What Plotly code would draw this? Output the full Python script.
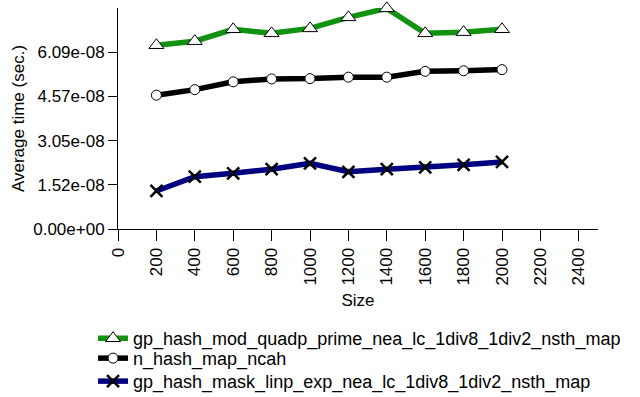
import plotly.graph_objects as go

sizes = [200, 400, 600, 800, 1000, 1200, 1400, 1600, 1800, 2000]
quadp = [6.33e-8, 6.47e-8, 6.88e-8, 6.74e-8, 6.91e-8, 7.29e-8, 7.60e-8, 6.74e-8, 6.78e-8, 6.88e-8]
ncah = [4.61e-8, 4.80e-8, 5.07e-8, 5.17e-8, 5.18e-8, 5.23e-8, 5.23e-8, 5.43e-8, 5.45e-8, 5.49e-8]
linp = [1.31e-8, 1.80e-8, 1.92e-8, 2.06e-8, 2.26e-8, 1.97e-8, 2.06e-8, 2.12e-8, 2.21e-8, 2.31e-8]

names = ["gp_hash_mod_quadp_prime_nea_lc_1div8_1div2_nsth_map",
         "n_hash_map_ncah",
         "gp_hash_mask_linp_exp_nea_lc_1div8_1div2_nsth_map"]

x_ticks = [0, 200, 400, 600, 800, 1000, 1200, 1400, 1600, 1800, 2000, 2200, 2400]
y_ticks = [0, 1.5225e-8, 3.045e-8, 4.5675e-8, 6.09e-8]
y_labels = ["0.00e+00", "1.52e-08", "3.05e-08", "4.57e-08", "6.09e-08"]

font = "Liberation Sans, Arial, sans-serif"

fig = go.Figure()
fig.add_trace(go.Scatter(x=sizes, y=quadp, name=names[0], mode="lines+markers",
                         legend="legend",
                         line=dict(color="#119211", width=5.5), cliponaxis=False,
                         marker=dict(symbol="triangle-up", size=13, color="white",
                                     line=dict(color="black", width=1))))
fig.add_trace(go.Scatter(x=sizes, y=ncah, name=names[1], mode="lines+markers",
                         legend="legend2",
                         line=dict(color="black", width=5.5), cliponaxis=False,
                         marker=dict(symbol="circle", size=10, color="white",
                                     line=dict(color="black", width=1))))
fig.add_trace(go.Scatter(x=sizes, y=linp, name=names[2], mode="lines+markers",
                         legend="legend3",
                         line=dict(color="#000080", width=5.5), cliponaxis=False,
                         marker=dict(symbol="x-thin", size=12, color="black",
                                     line=dict(color="black", width=2.5))))

leg = dict(x=-0.052, xanchor="left", yanchor="top", bgcolor="rgba(0,0,0,0)",
           font=dict(size=18), itemwidth=30)

fig.update_layout(
    width=640, height=397,
    margin=dict(l=118, r=42, t=8, b=168, autoexpand=False),
    paper_bgcolor="white", plot_bgcolor="white",
    font=dict(family=font, size=17, color="black"),
    showlegend=True,
    legend=dict(leg, y=-0.412),
    legend2=dict(leg, y=-0.502),
    legend3=dict(leg, y=-0.606),
    xaxis=dict(range=[0, 2500], tickvals=x_ticks, tickangle=-90, automargin=False,
               showgrid=False, zeroline=False, showline=True, linecolor="black",
               linewidth=1, ticks="outside", ticklen=11, tickcolor="black",
               title=dict(text="Size", font=dict(size=17), standoff=9)),
    yaxis=dict(range=[0, 7.6125e-8], tickvals=y_ticks, ticktext=y_labels, automargin=False,
               showgrid=False, zeroline=False, showline=True, linecolor="black",
               linewidth=1, ticks="outside", ticklen=9, tickcolor="black",
               title=dict(text="Average time (sec.)", font=dict(size=17), standoff=4)),
)

fig.write_html("out.html", config={"displayModeBar": False},
               post_script="document.body.style.margin='0px';document.body.style.overflow='hidden';")
